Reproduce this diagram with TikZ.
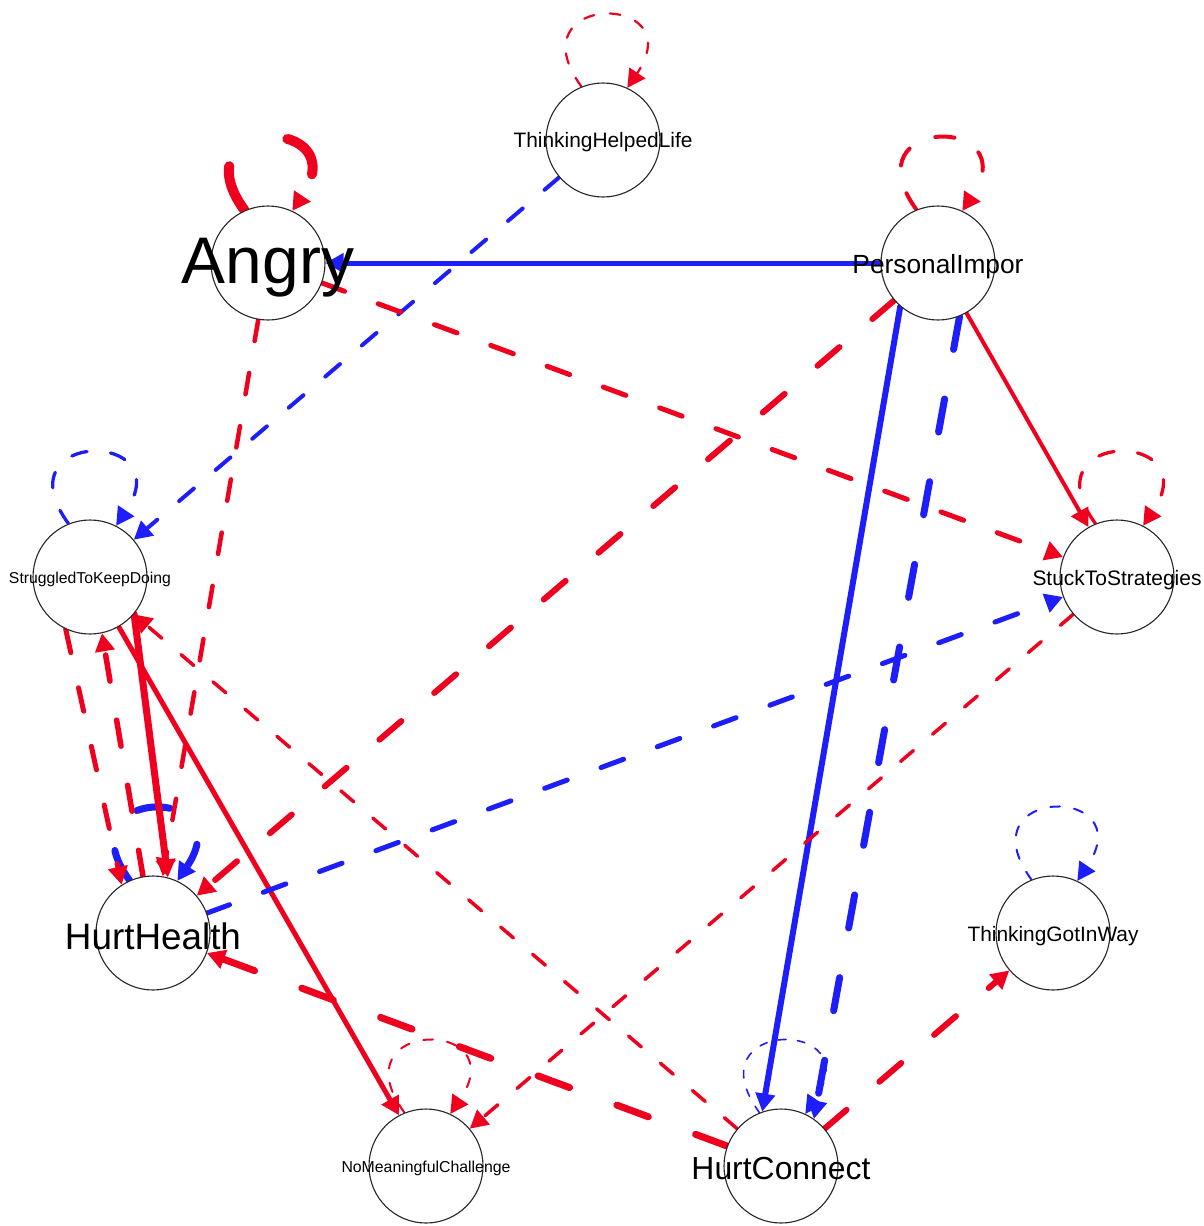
\documentclass[tikz,border=0pt]{standalone}
\usepackage{fontspec}
\setmainfont{Liberation Sans}
\usetikzlibrary{arrows.meta,backgrounds}
\definecolor{qred}{RGB}{238,0,30}
\definecolor{qblue}{RGB}{30,30,250}
\newcommand\nlabel[3][0pt]{\makebox[0pt]{\raisebox{-#1}[\height][\depth]{\resizebox{#2pt}{!}{#3}}}}
\tikzset{
  vert/.style={circle, draw=black!85, line width=1.1pt, fill=white, minimum size=114pt, inner sep=0pt, text=black},
  tipA/.style={-{Triangle[length=18pt,width=19pt]}},
  sol/.style={line width=#1pt, line cap=round, tipA},
  dsh/.code={\pgfmathsetlengthmacro\dshon{4.8*#1}\pgfmathsetlengthmacro\dshoff{7.2*#1}%
    \tikzset{line width=#1pt, line cap=round, dash pattern=on \dshon\space off \dshoff, tipA}},
  selfloop/.style={out=126, in=56, distance=117pt},
}
\begin{document}
\begin{tikzpicture}[x=1pt,y=1pt]
\useasboundingbox (0,0) rectangle (1204,-1226);
\node[vert] (thl)   at (603,-140)  {\nlabel[2pt]{179}{ThinkingHelpedLife}};
\node[vert] (angry) at (268,-263)  {\nlabel[5pt]{172}{Angry}};
\node[vert] (pi)    at (938,-263)  {\nlabel[4pt]{171}{PersonalImpor}};
\node[vert] (stkd)  at (90,-577)   {\nlabel[2pt]{162}{StruggledToKeepDoing}};
\node[vert] (sts)   at (1117,-577) {\nlabel[3pt]{169}{StuckToStrategies}};
\node[vert] (hh)    at (153,-933)  {\nlabel[3pt]{176}{HurtHealth}};
\node[vert] (tgiw)  at (1053,-933) {\nlabel[3pt]{171}{ThinkingGotInWay}};
\node[vert] (nmc)   at (426,-1166) {\nlabel[2pt]{169}{NoMeaningfulChallenge}};
\node[vert] (hc)    at (781,-1166) {\nlabel[3pt]{179}{HurtConnect}};
\begin{scope}[on background layer]
  % self loops
  \draw[qred,  dsh=2.2] (thl.112)   to[selfloop] (thl.65);
  \draw[qred,  dsh=10]  (angry.114) to[selfloop] (angry.65);
  \draw[qred,  dsh=4]   (pi.112)    to[selfloop] (pi.65);
  \draw[qblue, dsh=3.3] (stkd.112)  to[selfloop] (stkd.63);
  \draw[qred,  dsh=3.3] (sts.112)   to[selfloop] (sts.63);
  \draw[qblue, dsh=7]   (hh.114)    to[selfloop] (hh.65);
  \draw[qblue, dsh=2]   (tgiw.112)  to[selfloop] (tgiw.65);
  \draw[qred,  dsh=2]   (nmc.112)   to[selfloop] (nmc.65);
  \draw[qblue, dsh=1.6] (hc.112)    to[selfloop] (hc.65);
  % edges
  \draw[qblue, sol=5]   (pi) -- (angry);
  \draw[qblue, dsh=4]   (thl) -- (stkd);
  \draw[qred,  dsh=5]   (angry) -- (sts);
  \draw[qred,  dsh=4.5] (angry) -- (hh);
  \draw[qred,  dsh=6]   (pi) -- (hh);
  \draw[qblue, sol=6]   (pi.229) -- (hc.109);
  \draw[qblue, dsh=7]   (pi.-68) -- (hc.55);
  \draw[qred,  sol=4]   (pi) -- (sts);
  \draw[qred,  dsh=5]   (stkd.-115) -- (hh.123);
  \draw[qred,  dsh=5.5] (hh.100) -- (stkd.-78);
  \draw[qred,  sol=7]   (stkd.-40) -- (hh.75);
  \draw[qred,  sol=5]   (stkd.-60) -- (nmc.118);
  \draw[qblue, dsh=5]   (hh) -- (sts);
  \draw[qred,  dsh=7]   (hc) -- (hh);
  \draw[qred,  dsh=3.5] (hc) -- (stkd);
  \draw[qred,  dsh=3.5] (sts) -- (nmc);
  \draw[qred,  dsh=6]   (hc) -- (tgiw);
\end{scope}
\end{tikzpicture}
\end{document}
